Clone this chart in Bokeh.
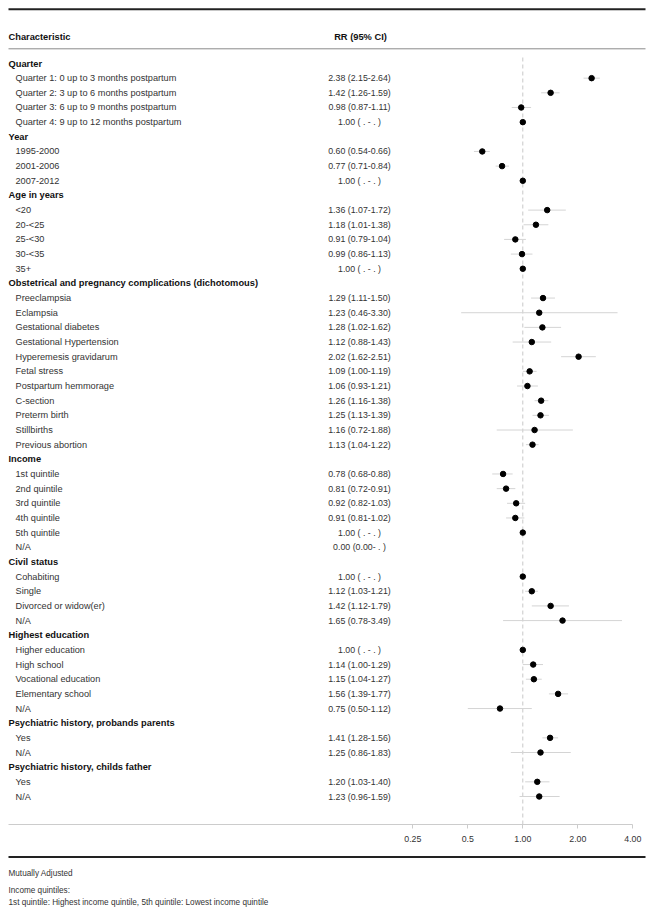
import math
from bokeh.plotting import figure
from bokeh.models import Range1d, LogScale, LogAxis, FixedTicker, ColumnDataSource
from bokeh.core.properties import value
from bokeh.embed import file_html
from bokeh.resources import INLINE

# ---------------- data ----------------
groups = ["Quarter", "Year", "Age in years",
          "Obstetrical and pregnancy complications (dichotomous)",
          "Income", "Civil status", "Highest education",
          "Psychiatric history, probands parents",
          "Psychiatric history, childs father"]
group_sizes = [4, 3, 5, 11, 6, 4, 5, 2, 2]

items = ["Quarter 1: 0 up to 3 months postpartum",
         "Quarter 2: 3 up to 6 months postpartum",
         "Quarter 3: 6 up to 9 months postpartum",
         "Quarter 4: 9 up to 12 months postpartum",
         "1995-2000", "2001-2006", "2007-2012",
         "<20", "20-<25", "25-<30", "30-<35", "35+",
         "Preeclampsia", "Eclampsia", "Gestational diabetes",
         "Gestational Hypertension", "Hyperemesis gravidarum", "Fetal stress",
         "Postpartum hemmorage", "C-section", "Preterm birth", "Stillbirths",
         "Previous abortion",
         "1st quintile", "2nd quintile", "3rd quintile", "4th quintile",
         "5th quintile", "N/A",
         "Cohabiting", "Single", "Divorced or widow(er)", "N/A",
         "Higher education", "High school", "Vocational education",
         "Elementary school", "N/A",
         "Yes", "N/A",
         "Yes", "N/A"]

NA = float("nan")
rr = [2.38, 1.42, 0.98, 1.00,
      0.60, 0.77, 1.00,
      1.36, 1.18, 0.91, 0.99, 1.00,
      1.29, 1.23, 1.28, 1.12, 2.02, 1.09, 1.06, 1.26, 1.25, 1.16, 1.13,
      0.78, 0.81, 0.92, 0.91, 1.00, 0.00,
      1.00, 1.12, 1.42, 1.65,
      1.00, 1.14, 1.15, 1.56, 0.75,
      1.41, 1.25,
      1.20, 1.23]
ci_lo = [2.15, 1.26, 0.87, NA,
         0.54, 0.71, NA,
         1.07, 1.01, 0.79, 0.86, NA,
         1.11, 0.46, 1.02, 0.88, 1.62, 1.00, 0.93, 1.16, 1.13, 0.72, 1.04,
         0.68, 0.72, 0.82, 0.81, NA, 0.00,
         NA, 1.03, 1.12, 0.78,
         NA, 1.00, 1.04, 1.39, 0.50,
         1.28, 0.86,
         1.03, 0.96]
ci_hi = [2.64, 1.59, 1.11, NA,
         0.66, 0.84, NA,
         1.72, 1.38, 1.04, 1.13, NA,
         1.50, 3.30, 1.62, 1.43, 2.51, 1.19, 1.21, 1.38, 1.39, 1.88, 1.22,
         0.88, 0.91, 1.03, 1.02, NA, NA,
         NA, 1.21, 1.79, 3.49,
         NA, 1.29, 1.27, 1.77, 1.12,
         1.56, 1.83,
         1.40, 1.59]

tick_values = [0.25, 0.5, 1.0, 2.0, 4.0]
tick_labels = ["0.25", "0.5", "1.00", "2.00", "4.00"]

footnotes = ["Mutually Adjusted",
             "Income quintiles:",
             "1st quintile: Highest income quintile, 5th quintile: Lowest income quintile"]

# ---------------- layout ----------------
W, H = 654, 915
ROW0_PX, STEP = 63.0, 14.66          # px of first row, px per row
ONE_PX, DOUBLING_PX = 522.3, 55.0     # px of RR=1, px per doubling

def px_to_row(py):
    return (py - ROW0_PX) / STEP

log_lo = 2 ** (-ONE_PX / DOUBLING_PX)
log_hi = 2 ** ((W - ONE_PX) / DOUBLING_PX)

def fmt(v):
    return " . " if math.isnan(v) else f"{v:.2f}"

# assign rows
hdr_rows, hdr_text = [], []
it_rows = []
r = 0
for g, n in zip(groups, group_sizes):
    hdr_rows.append(r); hdr_text.append(g); r += 1
    for _ in range(n):
        it_rows.append(r); r += 1

rr_text = [f"{fmt(v)} ({fmt(a)}-{fmt(b)})" for v, a, b in zip(rr, ci_lo, ci_hi)]

pt_idx = [i for i, v in enumerate(rr) if v > 0]
ci_idx = [i for i in range(len(rr))
          if not math.isnan(ci_lo[i]) and not math.isnan(ci_hi[i]) and ci_lo[i] > 0]

p = figure(width=W, height=H,
           x_range=Range1d(0, W), y_range=Range1d(px_to_row(H), px_to_row(0)),
           x_axis_type=None, y_axis_type=None,
           toolbar_location=None, output_backend="svg",
           min_border=0, outline_line_color=None)
p.extra_x_ranges = {"rr": Range1d(log_lo, log_hi)}
p.extra_x_scales = {"rr": LogScale()}
p.background_fill_color = "white"
p.border_fill_color = "white"

FONT = value("Liberation Sans")

# horizontal rules
top_row = px_to_row(8.8)
head_line_row = px_to_row(48.3)
axis_row = px_to_row(823.5)
bottom_row = px_to_row(856.5)
p.segment(x0=[8], x1=[645], y0=[top_row], y1=[top_row], line_color="#222222", line_width=2)
p.segment(x0=[8], x1=[645], y0=[head_line_row], y1=[head_line_row], line_color="#8a8a8a", line_width=1)
p.segment(x0=[8], x1=[645], y0=[bottom_row], y1=[bottom_row], line_color="#222222", line_width=2)

# column headers
head_row = px_to_row(36.5)
p.text(x=[8], y=[head_row], text=["Characteristic"], text_font=FONT, text_font_style="bold",
       text_font_size="9.3px", text_baseline="middle", text_color="#111111")
p.text(x=[360], y=[head_row], text=["RR (95% CI)"], text_font=FONT, text_font_style="bold",
       text_font_size="9.3px", text_baseline="middle", text_align="center", text_color="#111111")

# group headers
p.text(x=[8] * len(hdr_rows), y=hdr_rows, text=hdr_text, text_font=FONT, text_font_style="bold",
       text_font_size="9.3px", text_baseline="middle", text_color="#111111")

# item labels and RR text
p.text(x=[15] * len(items), y=it_rows, text=items, text_font=FONT,
       text_font_size="9.2px", text_baseline="middle", text_color="#333333")
p.text(x=[359] * len(items), y=it_rows, text=rr_text, text_font=FONT,
       text_font_size="8.8px", text_baseline="middle", text_align="center", text_color="#333333")

# reference line at RR = 1
p.segment(x0=[1.0], x1=[1.0], y0=[px_to_row(57)], y1=[axis_row], x_range_name="rr",
          line_color="#c8c8c8", line_width=1, line_dash="4 3")

# confidence intervals
ci_src = ColumnDataSource(dict(lo=[ci_lo[i] for i in ci_idx], hi=[ci_hi[i] for i in ci_idx],
                               y=[it_rows[i] for i in ci_idx]))
p.segment(x0="lo", x1="hi", y0="y", y1="y", source=ci_src, x_range_name="rr",
          line_color="#d4d4d4", line_width=1)

# points
pt_src = ColumnDataSource(dict(x=[rr[i] for i in pt_idx], y=[it_rows[i] for i in pt_idx]))
p.scatter(x="x", y="y", source=pt_src, x_range_name="rr", size=5.5,
          fill_color="black", line_color="black")

# x axis (log scale)
ax = LogAxis(x_range_name="rr", fixed_location=axis_row,
             ticker=FixedTicker(ticks=tick_values, minor_ticks=[]),
             bounds=(2 ** ((8 - ONE_PX) / DOUBLING_PX), tick_values[-1]))
ax.major_label_overrides = {float(v): lab for v, lab in zip(tick_values, tick_labels)}
ax.axis_line_color = "#cccccc"
ax.major_tick_line_color = "#cccccc"
ax.minor_tick_line_color = None
ax.major_tick_in = 0
ax.major_tick_out = 4
ax.major_label_standoff = 8
ax.major_label_text_font = "Liberation Sans"
ax.major_label_text_font_size = "8.8px"
ax.major_label_text_color = "#333333"
p.add_layout(ax, "below")

# footnotes
foot_rows = [px_to_row(873), px_to_row(890), px_to_row(902)]
p.text(x=[8] * len(footnotes), y=foot_rows, text=footnotes, text_font=FONT,
       text_font_size="8.2px", text_baseline="middle", text_color="#333333")

open("out.html", "w").write(file_html(p, INLINE))
